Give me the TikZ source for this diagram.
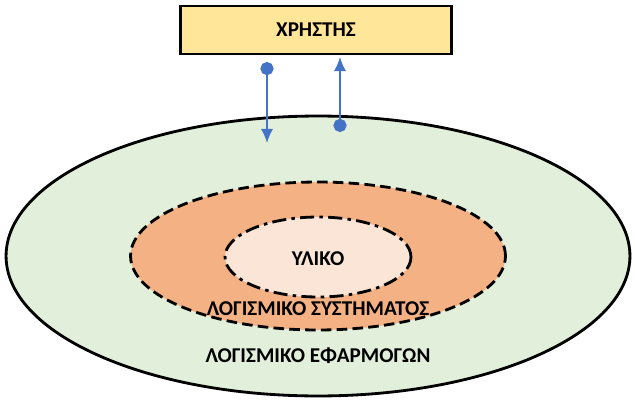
\documentclass[tikz,border=0pt]{standalone}
\usepackage{fontspec}
\setmainfont{Carlito}
\usetikzlibrary{positioning,shapes.geometric,arrows.meta}
\definecolor{userfill}{HTML}{FFE699}
\definecolor{appfill}{HTML}{E2EFDA}
\definecolor{sysfill}{HTML}{F4B183}
\definecolor{hwfill}{HTML}{FBE5D6}
\definecolor{linkblue}{HTML}{4472C4}
\tikzset{
  layer/.style={ellipse, draw=black, line width=1.6pt},
  label text/.style={font=\bfseries\fontsize{12}{14}\selectfont},
  link/.style={draw=linkblue, line width=1.1pt, {Circle[length=7.5pt]}-{Latex[length=8pt,width=7pt]}}
}
\begin{document}
\begin{tikzpicture}[x=0.02cm, y=-0.02cm]
  \useasboundingbox (0,0) rectangle (635,402);

  \node [layer, fill=appfill, minimum width=12.48cm, minimum height=5.6cm] (apps) at (318,256) {};
  \node [layer, fill=sysfill, dash pattern=on 6pt off 3pt, minimum width=7.5cm, minimum height=2.96cm] (system) at (318,256) {};
  \node [layer, fill=hwfill, dash pattern=on 8pt off 3pt on 2pt off 3pt, minimum width=3.72cm, minimum height=1.6cm] (hardware) at (318,257) {};

  \node [draw=black, line width=1.6pt, fill=userfill, minimum width=5.42cm, minimum height=0.96cm,
    label text] (user) at (316,30) {ΧΡΗΣΤΗΣ};

  \node [label text] (hw-text) at (318,259) {ΥΛΙΚΟ};
  \node [label text] (sys-text) at (318,309) {ΛΟΓΙΣΜΙΚΟ ΣΥΣΤΗΜΑΤΟΣ};
  \node [label text] (app-text) at (318,356) {ΛΟΓΙΣΜΙΚΟ ΕΦΑΡΜΟΓΩΝ};

  \coordinate (down-start) at (267,62);
  \coordinate (down-end) at (267,143);
  \coordinate (up-start) at (340,132);
  \coordinate (up-end) at (340,57);

  \draw [link] (down-start) -- (down-end);
  \draw [link] (up-start) -- (up-end);

\end{tikzpicture}
\end{document}
